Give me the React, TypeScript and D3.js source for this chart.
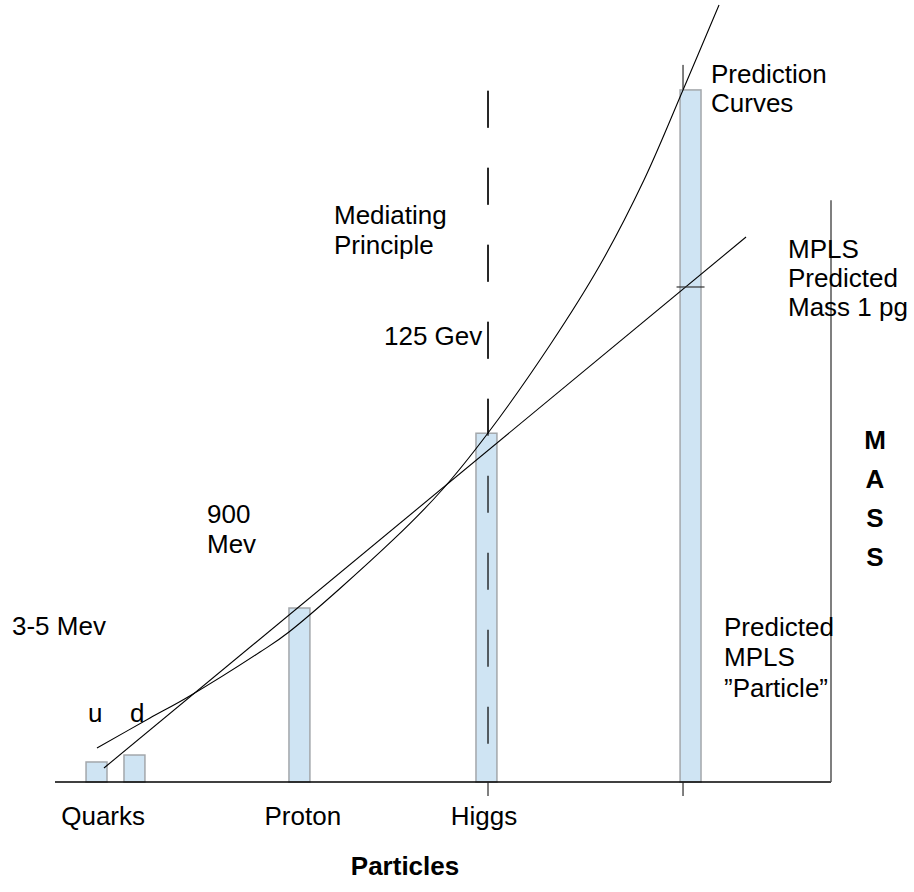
import React from "react";
import * as d3 from "d3";

// ---- data (chart units: x = position along particle axis 0..100, y = relative mass 0..100)
const barNames = ["u", "d", "Proton", "Higgs", "MPLS"];
const barX = [5.35, 10.24, 31.5, 55.6, 81.9];
const barMass = [2.56, 3.45, 22.25, 44.6, 88.5];
const barWidth = 2.7;

const curveAX = [5.41, 12.24, 17.14, 26.42, 30.15, 43.56, 49.87, 55.8, 63.79, 70.23, 75.9, 80.93, 85.57];
const curveAY = [4.35, 8.18, 10.87, 16.62, 19.18, 30.95, 37.34, 44.63, 55.88, 66.11, 76.98, 88.49, 99.36];

const lineBX = [6.31, 89.05];
const lineBY = [1.79, 69.69];

const higgsX = 55.8; // mediating principle (dashed)
const higgsTop = 88.4;
const mplsX = 80.93;
const mplsTop = 91.7;
const mplsMark = 63.3;
const rightAxisTop = 74.4;

const categoryLabels = ["Quarks", "Proton", "Higgs"];
const categoryLabelX = [0.8, 27, 51];
const massLetters = ["M", "A", "S", "S"];

const W = 914;
const H = 892;
const FONT = "'Liberation Sans', Arial, sans-serif";

export default function App() {
  const x = d3.scaleLinear().domain([0, 100]).range([55, 831]);
  const y = d3.scaleLinear().domain([0, 100]).range([782, 0]);
  const bw = x(barWidth) - x(0);

  const line = d3
    .line<[number, number]>()
    .x((d) => x(d[0]))
    .y((d) => y(d[1]))
    .curve(d3.curveCatmullRom.alpha(0.5));
  const aPts = curveAX.map((v, i) => [v, curveAY[i]] as [number, number]);
  const bPts = lineBX.map((v, i) => [v, lineBY[i]] as [number, number]);
  const straight = d3
    .line<[number, number]>()
    .x((d) => x(d[0]))
    .y((d) => y(d[1]));

  const fs = 26;
  const t = (s: string, px: number, py: number, extra: any = {}) => (
    <text x={px} y={py} fontSize={fs} fontFamily={FONT} fill="#000" {...extra}>
      {s}
    </text>
  );

  return (
    <svg
      width={W}
      height={H}
      style={{ position: "absolute", left: 0, top: 0, background: "#fff" }}
    >
      {/* MPLS vertical guide (behind bar) */}
      <line x1={x(mplsX)} x2={x(mplsX)} y1={y(mplsTop)} y2={y(0) + 14} stroke="#000" strokeWidth={1} />
      {/* Higgs dashed mediating line */}
      <line
        x1={x(higgsX)}
        x2={x(higgsX)}
        y1={y(higgsTop)}
        y2={y(0)}
        stroke="#000"
        strokeWidth={1.2}
        strokeDasharray="37 40"
      />
      <line x1={x(higgsX)} x2={x(higgsX)} y1={y(0)} y2={y(0) + 14} stroke="#000" strokeWidth={1} />

      {/* bars */}
      {barNames.map((n, i) => (
        <rect
          key={n}
          x={x(barX[i]) - bw / 2}
          y={y(barMass[i])}
          width={bw}
          height={y(0) - y(barMass[i])}
          fill="#cfe4f3"
          stroke="#a3a7ab"
          strokeWidth={1.5}
        />
      ))}
      {/* dashed line visible over Higgs bar */}
      <line
        x1={x(higgsX)}
        x2={x(higgsX)}
        y1={y(higgsTop)}
        y2={y(0)}
        stroke="#000"
        strokeWidth={1.2}
        strokeDasharray="37 40"
      />

      {/* curves */}
      <path d={line(aPts) || ""} fill="none" stroke="#000" strokeWidth={1.1} />
      <path d={straight(bPts) || ""} fill="none" stroke="#000" strokeWidth={1.1} />

      {/* predicted mass mark */}
      <line
        x1={x(barX[4]) - 14}
        x2={x(barX[4]) + 14}
        y1={y(mplsMark)}
        y2={y(mplsMark)}
        stroke="#333"
        strokeWidth={1.2}
      />

      {/* axes */}
      <line x1={x(0)} x2={x(100)} y1={y(0)} y2={y(0)} stroke="#000" strokeWidth={1.5} />
      <line x1={x(100)} x2={x(100)} y1={y(rightAxisTop)} y2={y(0)} stroke="#555" strokeWidth={1.5} />

      {/* category labels */}
      {categoryLabels.map((c, i) => (
        <React.Fragment key={c}>{t(c, x(categoryLabelX[i]), 825)}</React.Fragment>
      ))}
      {t("Particles", 405, 875, { fontWeight: "bold", textAnchor: "middle" })}

      {/* MASS vertical label */}
      {massLetters.map((m, i) => (
        <React.Fragment key={i}>
          {t(m, 875, 449 + i * 39, { fontWeight: "bold", textAnchor: "middle" })}
        </React.Fragment>
      ))}

      {/* annotations */}
      {t("Prediction", 711, 83)}
      {t("Curves", 711, 112)}
      {t("Mediating", 334, 224)}
      {t("Principle", 334, 254)}
      {t("125 Gev", 384, 345)}
      {t("MPLS", 788, 258)}
      {t("Predicted", 788, 287)}
      {t("Mass 1 pg", 788, 316)}
      {t("900", 207, 523)}
      {t("Mev", 207, 553)}
      {t("3-5 Mev", 12, 635)}
      {t("u", 88, 722)}
      {t("d", 130, 722)}
      {t("Predicted", 724, 636)}
      {t("MPLS", 724, 666)}
      {t("\u201DParticle\u201D", 724, 697)}
    </svg>
  );
}
